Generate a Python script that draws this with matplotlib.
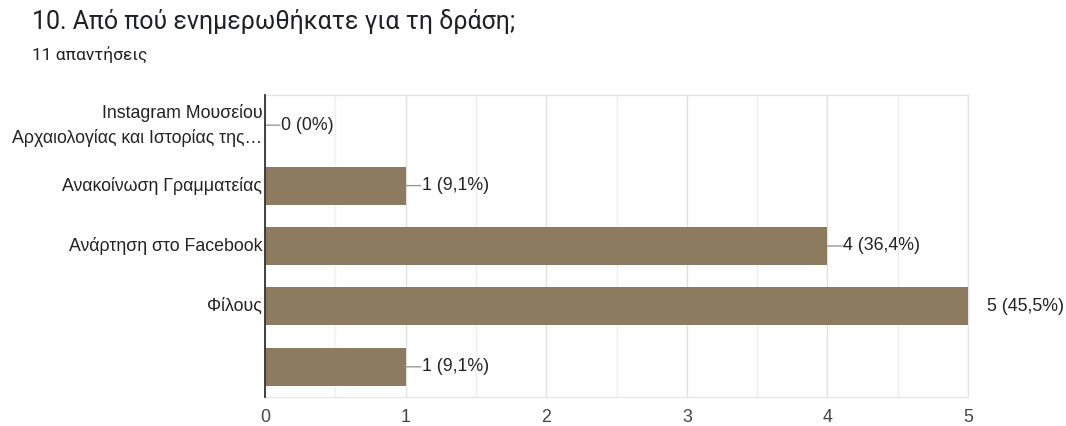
import matplotlib
matplotlib.use("Agg")
import matplotlib.pyplot as plt
from matplotlib.ticker import MultipleLocator

plt.rcParams["font.family"] = ["Liberation Sans", "DejaVu Sans"]

# Data
categories = [
    "Instagram Μουσείου\nΑρχαιολογίας και Ιστορίας της…",
    "Ανακοίνωση Γραμματείας",
    "Ανάρτηση στο Facebook",
    "Φίλους",
    "",
]
counts = [0, 1, 4, 5, 1]
labels = ["0 (0%)", "1 (9,1%)", "4 (36,4%)", "5 (45,5%)", "1 (9,1%)"]
x_ticks = [0, 1, 2, 3, 4, 5]

bar_color = "#8d7b5f"
tick_size = 12.8

fig = plt.figure(figsize=(10.66, 4.26), dpi=100)
ax = fig.add_axes([265 / 1066, 1 - 397 / 426, (968 - 265) / 1066, (397 - 95) / 426])

ypos = list(range(len(categories)))
ax.barh(ypos, counts, height=0.63, color=bar_color, zorder=3)

ax.set_xlim(0, 5)
ax.set_ylim(len(categories) - 0.5, -0.5)
ax.set_yticks(ypos)
ax.set_yticklabels(categories, fontsize=tick_size, color="#222222",
                   linespacing=1.5, va="center")
ax.set_xticks(x_ticks)
ax.set_xticklabels([str(t) for t in x_ticks], fontsize=tick_size, color="#444444")
ax.xaxis.set_minor_locator(MultipleLocator(0.5))
ax.tick_params(axis="both", which="both", length=0)
ax.tick_params(axis="y", pad=2)
ax.tick_params(axis="x", pad=9)

# grid
ax.grid(axis="x", which="major", color="#e0e0e0", linewidth=1, zorder=0)
ax.grid(axis="x", which="minor", color="#efefef", linewidth=1, zorder=0)

for side in ["top", "right", "bottom"]:
    ax.spines[side].set_color("#e6e6e6")
    ax.spines[side].set_linewidth(1)
ax.spines["left"].set_color("#333333")
ax.spines["left"].set_linewidth(1.3)
ax.spines["left"].set_zorder(5)

# value labels with leader lines
for y, v, lab in zip(ypos, counts, labels):
    if v < 5:
        ax.annotate("", xy=(v, y), xytext=(15, 0), textcoords="offset pixels",
                    arrowprops=dict(arrowstyle="-", color="#999999", lw=1,
                                    shrinkA=0, shrinkB=0), zorder=4)
        ax.annotate(lab, xy=(v, y), xytext=(16, 0), textcoords="offset pixels",
                    va="center", ha="left", fontsize=tick_size, color="#222222",
                    annotation_clip=False)
    else:
        ax.annotate(lab, xy=(v, y), xytext=(19, 0), textcoords="offset pixels",
                    va="center", ha="left", fontsize=tick_size, color="#222222",
                    annotation_clip=False)

fig.text(32 / 1066, 1 - 22 / 426, "10. Από πού ενημερωθήκατε για τη δράση;",
         fontsize=18, color="#202124", va="center", ha="left",
         family=["Roboto", "DejaVu Sans"])
fig.text(32 / 1066, 1 - 55 / 426, "11 απαντήσεις",
         fontsize=12.5, color="#202124", va="center", ha="left",
         family=["Roboto", "DejaVu Sans"])

fig.savefig("out.png", dpi=100)
plt.close(fig)
